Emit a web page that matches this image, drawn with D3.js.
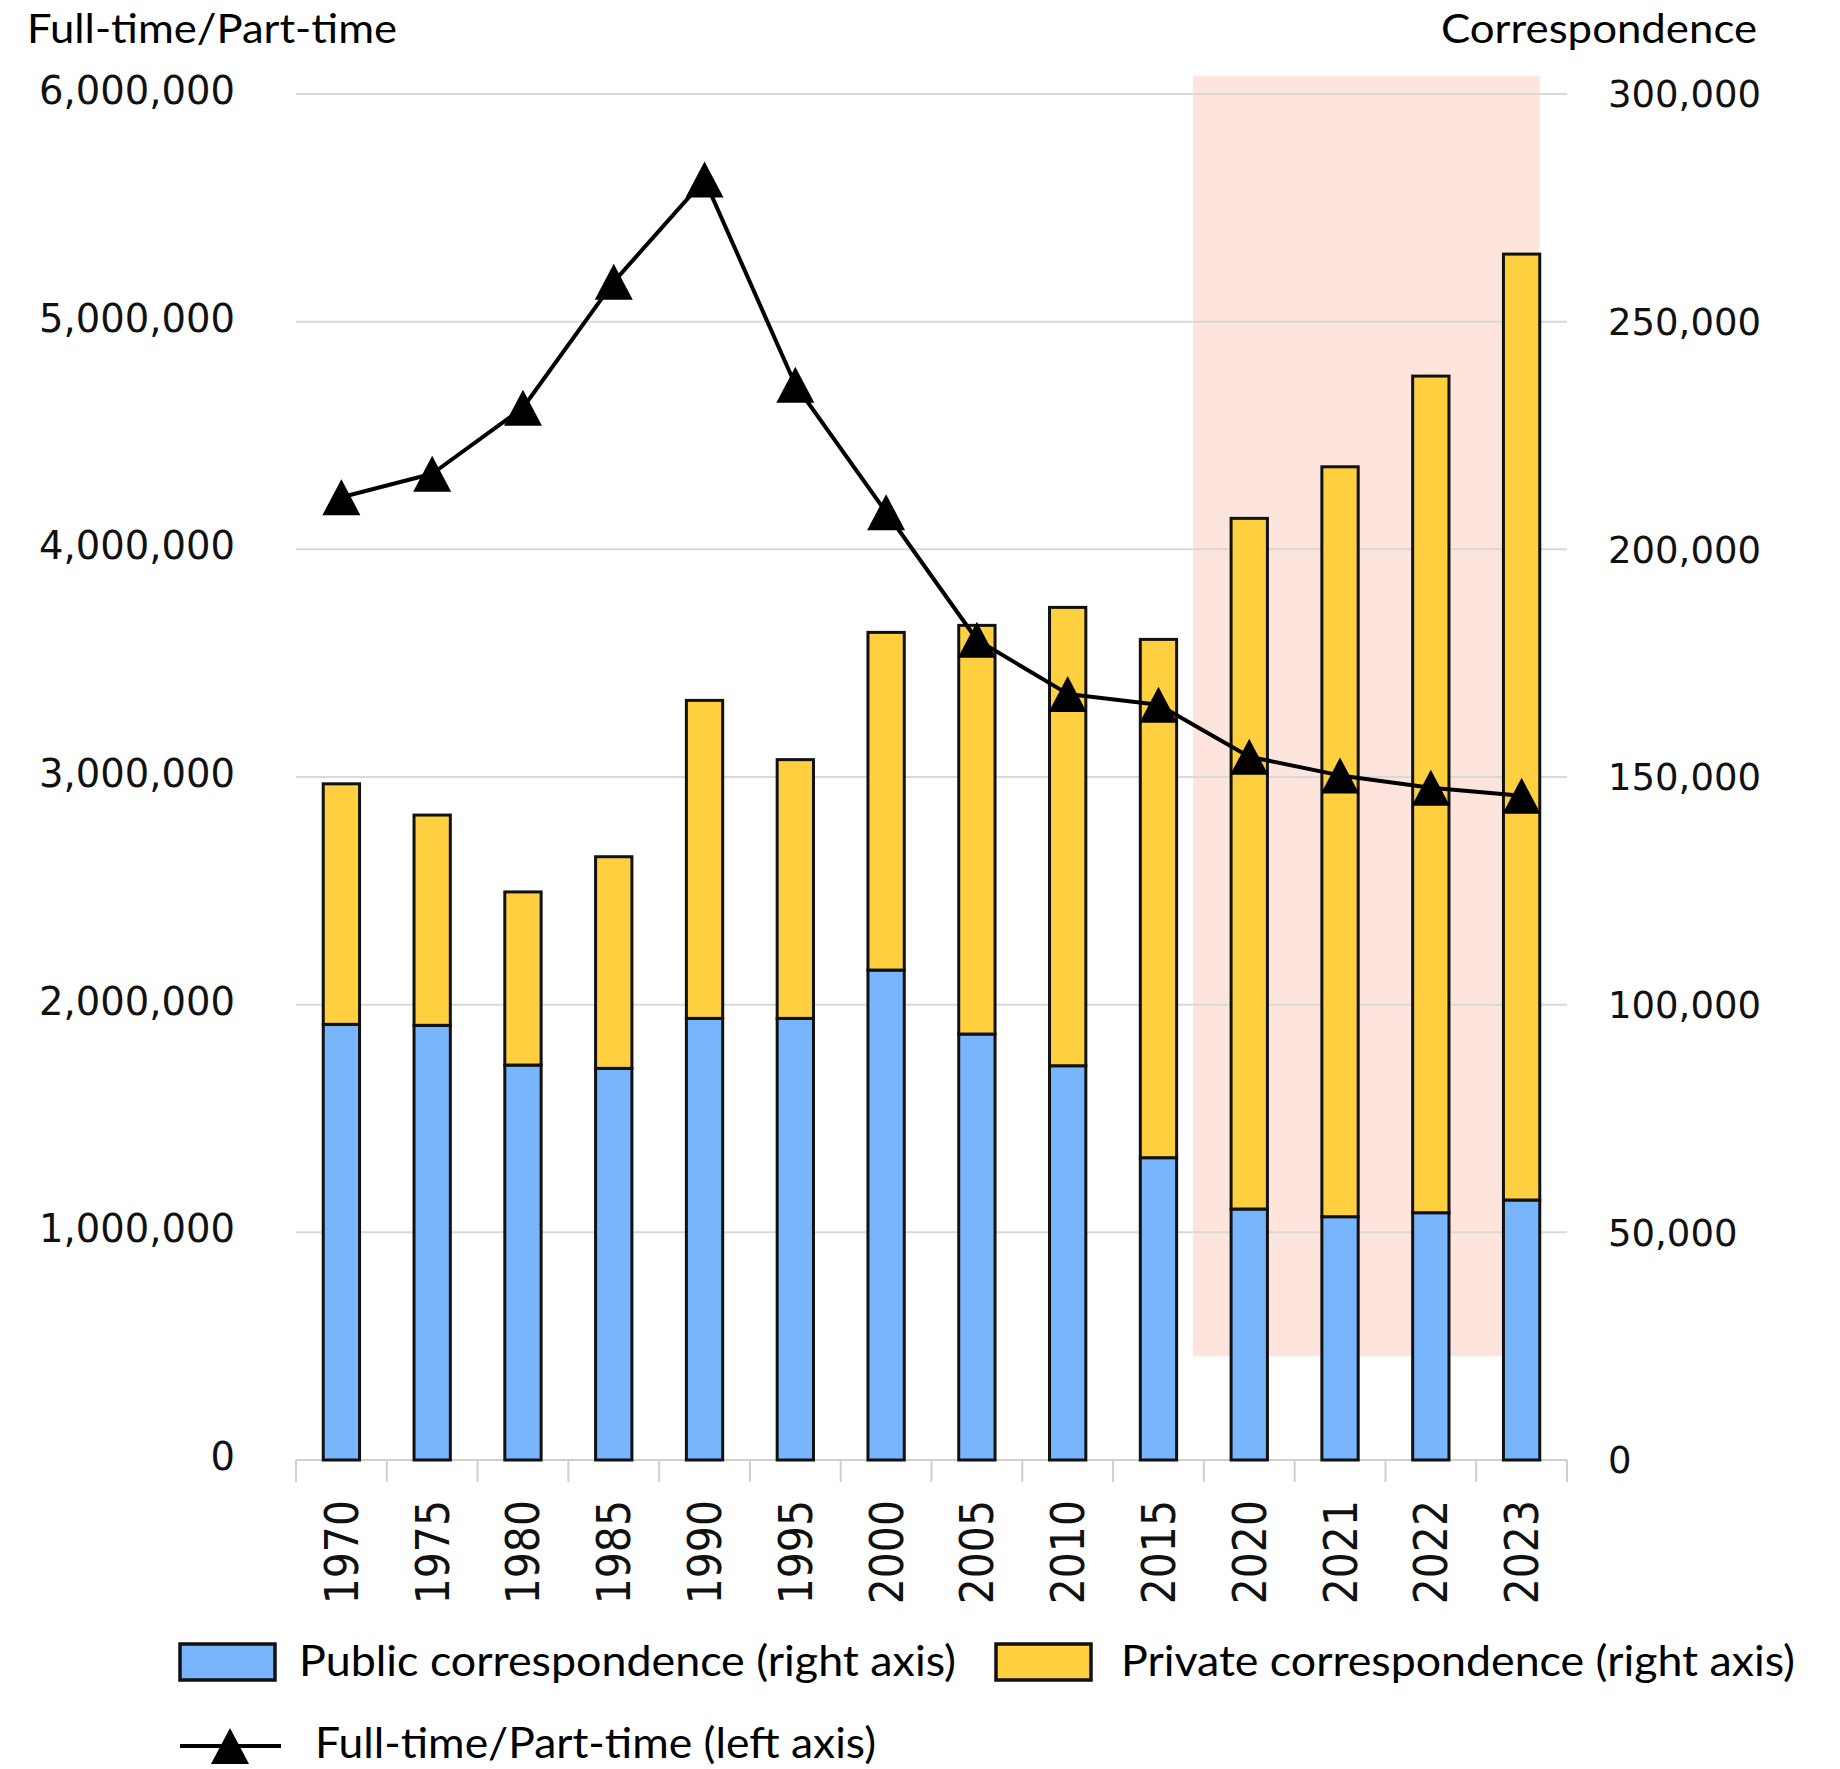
<!DOCTYPE html>
<html>
<head>
<meta charset="utf-8">
<script src="https://cdn.jsdelivr.net/npm/d3@7"></script>
<style>
  html, body { margin: 0; padding: 0; background: #ffffff; }
  svg { display: block; }
</style>
</head>
<body>
<svg id="chart" width="1840" height="1769"></svg>
<script>
// ---------- DATA ----------
const years = ["1970", "1975", "1980", "1985", "1990", "1995", "2000", "2005", "2010", "2015", "2020", "2021", "2022", "2023"];
const publicCorrespondence  = [95680, 95460, 86740, 86010, 96990, 96990, 107600, 93550, 86590, 66390, 55120, 53430, 54310, 57100];
const privateCorrespondence = [52820, 46180, 38020, 46480, 69840, 56820, 74160, 89750, 100660, 113830, 151680, 164700, 183740, 207740];
const fullTimePartTime = [4229000, 4332000, 4622000, 5175000, 5624000, 4723000, 4163000, 3603000, 3365000, 3317000, 3089000, 3007000, 2953000, 2918000];
const leftTicks  = [0, 1000000, 2000000, 3000000, 4000000, 5000000, 6000000];
const rightTicks = [0, 50000, 100000, 150000, 200000, 250000, 300000];
const shadedFrom = "2020", shadedTo = "2023";
const shadedRightRange = [22800, 304000];
const leftTitle = "Full-time/Part-time";
const rightTitle = "Correspondence";
const legendLabels = ["Public correspondence (right axis)", "Private correspondence (right axis)", "Full-time/Part-time (left axis)"];

// ---------- LAYOUT ----------
const L = 296, R = 1567, T = 94, B = 1460;
const colPublic = "#78b5fc", colPrivate = "#fed03f", colShade = "#fde4dd", colGrid = "#d9d9d9";
const svg = d3.select("#chart");

const x = d3.scaleBand().domain(years).range([L, R]).paddingInner(0.6).paddingOuter(0.3);
const yL = d3.scaleLinear().domain([0, 6000000]).range([B, T]);
const yR = d3.scaleLinear().domain([0, 300000]).range([B, T]);
const fmt = d3.format(",");

// shaded region
svg.append("rect")
  .attr("x", x(shadedFrom) - 0.42 * x.step())
  .attr("y", yR(shadedRightRange[1]))
  .attr("width", x(shadedTo) + x.bandwidth() - (x(shadedFrom) - 0.42 * x.step()))
  .attr("height", yR(shadedRightRange[0]) - yR(shadedRightRange[1]))
  .attr("fill", colShade);

// gridlines
svg.append("g").selectAll("line").data(leftTicks.filter(d => d > 0)).join("line")
  .attr("x1", L).attr("x2", R)
  .attr("y1", d => yL(d)).attr("y2", d => yL(d))
  .attr("stroke", colGrid).attr("stroke-width", 2);

// left axis labels
const gLeft = svg.append("g").attr("transform", `translate(${L},0)`)
  .call(d3.axisLeft(yL).tickValues(leftTicks).tickFormat(fmt).tickSize(0).tickPadding(61));
gLeft.select(".domain").remove();
gLeft.selectAll("text").attr("font-family", "DejaVu Sans, Verdana, sans-serif").attr("font-size", 38.5).attr("fill", "#111").attr("dy", "0.25em");

// right axis labels
const gRight = svg.append("g").attr("transform", `translate(${R},0)`)
  .call(d3.axisRight(yR).tickValues(rightTicks).tickFormat(fmt).tickSize(0).tickPadding(41));
gRight.select(".domain").remove();
gRight.selectAll("text").attr("font-family", "DejaVu Sans, Verdana, sans-serif").attr("font-size", 37).attr("fill", "#111").attr("dy", "0.35em");

// x axis baseline and boundary ticks
const gx = svg.append("g");
gx.append("line").attr("x1", L).attr("x2", R).attr("y1", B).attr("y2", B)
  .attr("stroke", "#cfcfcf").attr("stroke-width", 2);
const boundaries = years.map(c => x(c) - x.paddingOuter() * x.step()).concat([x(years[years.length - 1]) + x.bandwidth() + x.paddingOuter() * x.step()]);
gx.selectAll("line.tk").data(boundaries).join("line").attr("class", "tk")
  .attr("x1", d => d).attr("x2", d => d).attr("y1", B).attr("y2", B + 22)
  .attr("stroke", "#cfcfcf").attr("stroke-width", 2);
gx.selectAll("text").data(years).join("text")
  .attr("transform", d => `translate(${x(d) + x.bandwidth() / 2},${B + 40}) rotate(-90) scale(1,1.12)`)
  .attr("text-anchor", "end").attr("dy", "0.36em")
  .attr("font-family", "DejaVu Sans, Verdana, sans-serif").attr("font-size", 41).attr("fill", "#111")
  .text(d => d);

// stacked bars
const gBars = svg.append("g");
years.forEach((yr, i) => {
  const p = publicCorrespondence[i], q = privateCorrespondence[i];
  gBars.append("rect")
    .attr("x", x(yr)).attr("width", x.bandwidth())
    .attr("y", yR(p)).attr("height", yR(0) - yR(p))
    .attr("fill", colPublic).attr("stroke", "#111").attr("stroke-width", 3);
  gBars.append("rect")
    .attr("x", x(yr)).attr("width", x.bandwidth())
    .attr("y", yR(p + q)).attr("height", yR(p) - yR(p + q))
    .attr("fill", colPrivate).attr("stroke", "#111").attr("stroke-width", 3);
});

// line
const cx = d => x(d) + x.bandwidth() / 2;
const lineData = years.map((yr, i) => [cx(yr), yL(fullTimePartTime[i])]);
svg.append("path").attr("d", d3.line()(lineData))
  .attr("fill", "none").attr("stroke", "#000").attr("stroke-width", 4).attr("stroke-linejoin", "round");
const tri = "M0,-18L19,18L-19,18Z";
svg.append("g").selectAll("path").data(lineData).join("path")
  .attr("d", tri).attr("transform", d => `translate(${d[0]},${d[1]})`).attr("fill", "#000");

// titles
svg.append("text").attr("x", 27).attr("y", 43).text(leftTitle)
  .attr("font-family", "Lato, 'Open Sans', sans-serif").attr("font-size", 41).attr("fill", "#000")
  .attr("textLength", 370).attr("lengthAdjust", "spacingAndGlyphs");
svg.append("text").attr("x", 1441).attr("y", 43).text(rightTitle)
  .attr("font-family", "Lato, 'Open Sans', sans-serif").attr("font-size", 41).attr("fill", "#000")
  .attr("textLength", 316).attr("lengthAdjust", "spacingAndGlyphs");

// legend
const lg = svg.append("g");
const legFont = "Lato, 'Open Sans', sans-serif";
lg.append("rect").attr("x", 180).attr("y", 1644).attr("width", 95).attr("height", 36)
  .attr("fill", colPublic).attr("stroke", "#111").attr("stroke-width", 3.5);
lg.append("text").attr("x", 299).attr("y", 1676).text(legendLabels[0])
  .attr("font-family", legFont).attr("font-size", 42).attr("fill", "#000")
  .attr("textLength", 657).attr("lengthAdjust", "spacingAndGlyphs");
lg.append("rect").attr("x", 996).attr("y", 1644).attr("width", 95).attr("height", 36)
  .attr("fill", colPrivate).attr("stroke", "#111").attr("stroke-width", 3.5);
lg.append("text").attr("x", 1121).attr("y", 1676).text(legendLabels[1])
  .attr("font-family", legFont).attr("font-size", 42).attr("fill", "#000")
  .attr("textLength", 674).attr("lengthAdjust", "spacingAndGlyphs");
lg.append("line").attr("x1", 180).attr("x2", 281).attr("y1", 1746).attr("y2", 1746)
  .attr("stroke", "#000").attr("stroke-width", 4);
lg.append("path").attr("d", tri).attr("transform", "translate(230,1746)").attr("fill", "#000");
lg.append("text").attr("x", 315).attr("y", 1758).text(legendLabels[2])
  .attr("font-family", legFont).attr("font-size", 42).attr("fill", "#000")
  .attr("textLength", 561).attr("lengthAdjust", "spacingAndGlyphs");
</script>
</body>
</html>
